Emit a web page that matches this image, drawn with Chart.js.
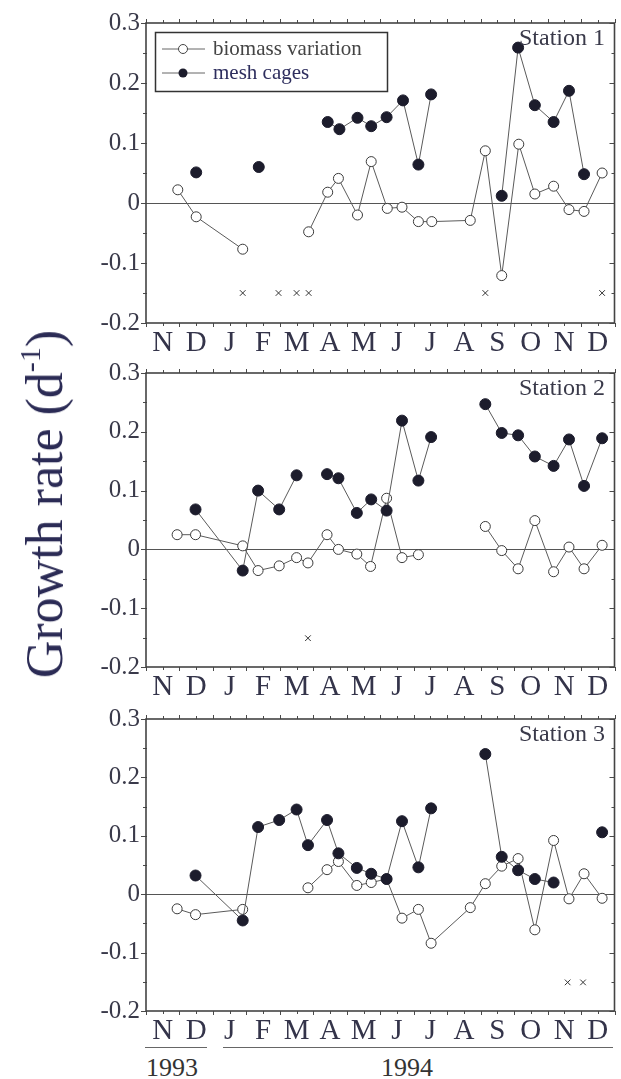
<!DOCTYPE html>
<html>
<head>
<meta charset="utf-8">
<script src="https://cdn.jsdelivr.net/npm/chart.js@4.4.1/dist/chart.umd.min.js"></script>
<style>
  html, body { margin: 0; padding: 0; background: #fff; }
  #wrap { position: relative; width: 621px; height: 1079px; overflow: hidden; background: #fff; }
  canvas { position: absolute; left: 0; }
  .txt { position: absolute; font-family: 'Liberation Serif', 'DejaVu Serif', serif; white-space: nowrap; }
  .line { position: absolute; height: 0; border-top: 1.5px solid #666; }
</style>
</head>
<body>
<div id="wrap">
  <canvas id="c1" width="621" height="365" style="top:0px"></canvas>
  <canvas id="c2" width="621" height="357" style="top:352px"></canvas>
  <canvas id="c3" width="621" height="355" style="top:698px"></canvas>
  <div class="txt" id="ytitle" style="left:45px; top:504px; font-size:52px; line-height:1; color:#2b2b55; transform: translate(-50%,-50%) rotate(-90deg);">Growth rate (d<sup style="font-size:30px; vertical-align: 22px; line-height:0;">-1</sup>)</div>
  <div class="line" style="left:145px; top:1047px; width:62px;"></div>
  <div class="line" style="left:223px; top:1047px; width:390px;"></div>
  <div class="txt" style="left:172px; top:1068px; transform: translate(-50%,-50%); font-size:26px; color:#333;">1993</div>
  <div class="txt" style="left:407px; top:1068px; transform: translate(-50%,-50%); font-size:26px; color:#333;">1994</div>
</div>
<script>
// ---- Data (x = months since 1 Nov 1993; null = gap in the line) ----
const monthLabels = ['N','D','J','F','M','A','M','J','J','A','S','O','N','D'];
const monthCenters = [0.5,1.5,2.5,3.5,4.5,5.5,6.5,7.5,8.5,9.5,10.5,11.5,12.5,13.5];
const yTickValues = [-0.2,-0.1,0,0.1,0.2,0.3];
const yTickLabels = ['-0.2','-0.1','0','0.1','0.2','0.3'];
const stationNames = ['Station 1','Station 2','Station 3'];
const legendLabels = ['biomass variation','mesh cages'];

// Station 1
const bio1X  = [0.95, 1.50, 2.89, null, 4.86, 5.43, 5.75, 6.32, 6.73, 7.21, 7.65, 8.14, 8.54, 9.69, 10.14, 10.63, 11.14, 11.62, 12.18, 12.64, 13.09, 13.63];
const bio1Y  = [0.022, -0.023, -0.077, null, -0.048, 0.018, 0.041, -0.020, 0.069, -0.009, -0.007, -0.031, -0.031, -0.029, 0.087, -0.121, 0.098, 0.015, 0.028, -0.011, -0.014, 0.050];
const mesh1X = [1.50, null, 3.37, null, 5.43, 5.78, 6.32, 6.73, 7.19, 7.68, 8.14, 8.52, null, 10.63, 11.12, 11.62, 12.18, 12.64, 13.09];
const mesh1Y = [0.051, null, 0.060, null, 0.135, 0.123, 0.142, 0.128, 0.143, 0.171, 0.064, 0.181, null, 0.012, 0.259, 0.163, 0.135, 0.187, 0.048];
const cross1X = [2.89, 3.96, 4.50, 4.86, 10.14, 13.63];
const cross1Y = [-0.15, -0.15, -0.15, -0.15, -0.15, -0.15];

// Station 2
const bio2X  = [0.93, 1.48, 2.89, 3.35, 3.98, 4.50, 4.84, 5.41, 5.75, 6.30, 6.71, 7.19, 7.65, 8.14, null, 10.14, 10.63, 11.12, 11.62, 12.18, 12.64, 13.09, 13.63];
const bio2Y  = [0.025, 0.025, 0.006, -0.036, -0.028, -0.014, -0.023, 0.025, 0.000, -0.008, -0.029, 0.087, -0.014, -0.009, null, 0.039, -0.002, -0.033, 0.049, -0.038, 0.004, -0.033, 0.007];
const mesh2X = [1.48, 2.89, 3.35, 3.98, 4.50, null, 5.41, 5.75, 6.30, 6.73, 7.19, 7.65, 8.14, 8.52, null, 10.14, 10.63, 11.12, 11.62, 12.18, 12.64, 13.09, 13.63];
const mesh2Y = [0.068, -0.036, 0.100, 0.068, 0.126, null, 0.128, 0.121, 0.062, 0.085, 0.066, 0.219, 0.117, 0.191, null, 0.247, 0.198, 0.194, 0.158, 0.142, 0.187, 0.108, 0.189];
const cross2X = [4.84];
const cross2Y = [-0.151];

// Station 3
const bio3X  = [0.93, 1.48, 2.89, null, 4.84, 5.41, 5.75, 6.30, 6.73, 7.19, 7.65, 8.14, 8.52, 9.69, 10.14, 10.63, 11.12, 11.62, 12.18, 12.64, 13.09, 13.63];
const bio3Y  = [-0.025, -0.035, -0.026, null, 0.011, 0.042, 0.056, 0.015, 0.020, 0.026, -0.041, -0.026, -0.084, -0.023, 0.018, 0.048, 0.061, -0.061, 0.092, -0.008, 0.035, -0.007];
const mesh3X = [1.48, 2.89, 3.35, 3.98, 4.50, 4.84, 5.41, 5.75, 6.30, 6.73, 7.19, 7.65, 8.14, 8.52, null, 10.14, 10.63, 11.12, 11.62, 12.18, null, 13.63];
const mesh3Y = [0.032, -0.045, 0.115, 0.127, 0.145, 0.084, 0.127, 0.070, 0.045, 0.035, 0.026, 0.125, 0.046, 0.147, null, 0.240, 0.064, 0.041, 0.026, 0.020, null, 0.106];
const cross3X = [12.60, 13.06];
const cross3Y = [-0.151, -0.151];

// ---- Rendering ----
const SERIF = "'Liberation Serif', 'DejaVu Serif', serif";
Chart.defaults.font.family = SERIF;

function pts(xs, ys) { return xs.map((x, i) => ({ x: x, y: ys[i] })); }

const framePlugin = {
  id: 'frame',
  beforeDatasetsDraw(chart) {
    const { ctx, chartArea: a, scales } = chart;
    ctx.save();
    ctx.strokeStyle = '#4a4a4a';
    ctx.lineWidth = 1;
    for (let m = 0; m <= 14; m += 0.5) {
      const px = Math.round(scales.x.getPixelForValue(m)) + 0.5;
      const len = Number.isInteger(m) ? 4 : 3;
      ctx.beginPath();
      ctx.moveTo(px, a.bottom); ctx.lineTo(px, a.bottom + len);
      ctx.moveTo(px, a.top); ctx.lineTo(px, a.top - len);
      ctx.stroke();
    }
    for (let k = -4; k <= 6; k++) {
      const v = k * 0.05;
      const py = Math.round(scales.y.getPixelForValue(v)) + 0.5;
      const len = (k % 2 === 0) ? 5 : 3;
      ctx.beginPath();
      ctx.moveTo(a.left - len, py); ctx.lineTo(a.left + 1, py);
      ctx.moveTo(a.right - len, py); ctx.lineTo(a.right, py);
      ctx.stroke();
    }
    ctx.lineWidth = 1.6;
    ctx.strokeStyle = '#444';
    ctx.strokeRect(a.left, a.top, a.right - a.left, a.bottom - a.top);
    ctx.restore();
  },
  afterDraw(chart) {
    const { ctx, chartArea: a } = chart;
    const o = chart.options.plugins.frame;
    ctx.save();
    ctx.font = '24px ' + SERIF;
    ctx.fillStyle = '#3a3a4a';
    ctx.textAlign = 'right';
    ctx.textBaseline = 'middle';
    ctx.fillText(o.station, 605, a.top + 16);
    if (o.legend) {
      ctx.lineWidth = 1.5;
      ctx.strokeStyle = '#333';
      ctx.strokeRect(155.5, 32.5, 232, 59);
      const rows = [49, 73];
      rows.forEach((ry, i) => {
        ctx.strokeStyle = '#666';
        ctx.lineWidth = 1;
        ctx.beginPath(); ctx.moveTo(162, ry); ctx.lineTo(205, ry); ctx.stroke();
        ctx.beginPath(); ctx.arc(183, ry, 4.5, 0, Math.PI * 2);
        if (i === 0) { ctx.fillStyle = '#fff'; ctx.fill(); ctx.strokeStyle = '#444'; ctx.stroke(); }
        else { ctx.fillStyle = '#1c1c2c'; ctx.fill(); }
        ctx.font = '21px ' + SERIF;
        ctx.textAlign = 'left';
        ctx.textBaseline = 'middle';
        ctx.fillStyle = i === 0 ? '#444' : '#2e2e5e';
        ctx.fillText(legendLabels[i], 213, ry);
      });
    }
    ctx.restore();
  }
};

function makeChart(id, bx, by, mx, my, cx, cy, station, legend, padTop, plotH, axisH) {
  return new Chart(document.getElementById(id), {
    type: 'line',
    data: {
      datasets: [
        { label: legendLabels[1], data: pts(mx, my), borderColor: '#5a5a5a', borderWidth: 1,
          pointRadius: 5.5, pointBackgroundColor: '#1c1c2c', pointBorderColor: '#1c1c2c', pointBorderWidth: 1,
          spanGaps: false, tension: 0, order: 0 },
        { label: legendLabels[0], data: pts(bx, by), borderColor: '#5a5a5a', borderWidth: 1,
          pointRadius: 5, pointBackgroundColor: '#fff', pointBorderColor: '#3a3a3a', pointBorderWidth: 1,
          spanGaps: false, tension: 0, order: 1 },
        { label: 'x', data: pts(cx, cy), showLine: false, pointStyle: 'crossRot', pointRadius: 4,
          borderColor: '#333', pointBorderColor: '#333', pointBorderWidth: 1, order: 2 }
      ]
    },
    options: {
      responsive: false,
      animation: false,
      devicePixelRatio: 1,
      layout: { padding: { top: padTop, left: 0, right: 1, bottom: 0 } },
      plugins: { legend: { display: false }, tooltip: { enabled: false }, frame: { station: station, legend: legend } },
      scales: {
        x: {
          type: 'linear', min: 0, max: 14,
          afterBuildTicks: s => { s.ticks = monthCenters.map(v => ({ value: v })); },
          afterFit: s => { s.height = axisH; },
          grid: { display: false },
          border: { display: false },
          ticks: { autoSkip: false, maxRotation: 0, padding: -5, color: '#34344a',
                   font: { size: 29, family: SERIF },
                   callback: (v, i) => monthLabels[i] }
        },
        y: {
          type: 'linear', min: -0.2, max: 0.3,
          afterBuildTicks: s => { s.ticks = yTickValues.map(v => ({ value: v })); },
          afterFit: s => { s.width = 146; },
          grid: { drawTicks: false, lineWidth: 1,
                  color: c => (c.tick && Math.abs(c.tick.value) < 1e-9) ? '#555' : 'rgba(0,0,0,0)' },
          border: { display: false },
          ticks: { padding: 6, color: '#3a3a4a', font: { size: 25, family: SERIF },
                   callback: (v, i) => yTickLabels[i] }
        }
      }
    },
    plugins: [framePlugin]
  });
}

makeChart('c1', bio1X, bio1Y, mesh1X, mesh1Y, cross1X, cross1Y, stationNames[0], true, 23, 300, 42);
makeChart('c2', bio2X, bio2Y, mesh2X, mesh2Y, cross2X, cross2Y, stationNames[1], false, 15, 300, 42);
makeChart('c3', bio3X, bio3Y, mesh3X, mesh3Y, cross3X, cross3Y, stationNames[2], false, 15, 298, 42);
</script>
</body>
</html>
